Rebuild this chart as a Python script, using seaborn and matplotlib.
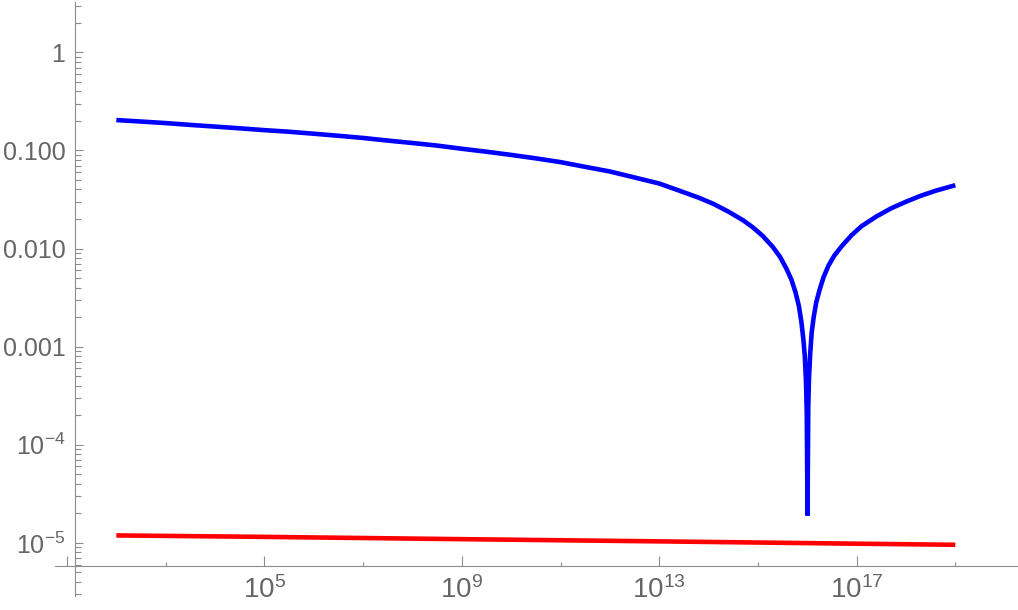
import matplotlib.pyplot as plt
import numpy as np
import seaborn as sns
from matplotlib.ticker import FixedLocator, FixedFormatter, NullFormatter

# exponents of x (x = 10**exp) and the values
blue_exp = [2.0, 2.5, 3.0, 3.5, 4.0, 4.5, 5.0, 5.5, 6.0, 6.5, 7.0, 7.5, 8.0,
            8.5, 9.0, 9.5, 10.0, 10.5, 11.0, 11.5, 12.0, 12.5, 13.0, 13.4,
            13.8, 14.1, 14.4, 14.7, 14.9, 15.1, 15.3, 15.45, 15.58, 15.68,
            15.76, 15.83, 15.88, 15.92, 15.95, 15.975, 15.99, 16.005,
            16.02, 16.035, 16.06, 16.09, 16.13, 16.18, 16.25, 16.33, 16.43,
            16.55, 16.7, 16.9, 17.1, 17.4, 17.7, 18.0, 18.3, 18.6, 19.0]
blue_val = [0.204, 0.197, 0.190, 0.182, 0.175, 0.168, 0.161, 0.155, 0.148,
            0.141, 0.134, 0.126, 0.119, 0.112, 0.104, 0.097, 0.090, 0.083,
            0.076, 0.068, 0.061, 0.053, 0.046, 0.039, 0.033, 0.0285, 0.0238,
            0.0194, 0.0164, 0.0134, 0.0104, 0.0082, 0.0062, 0.0048, 0.0036,
            0.0026, 0.0018, 0.0012, 8.0e-4, 4.3e-4, 2.1e-4, 1.9e-5,
            2.4e-4, 4.8e-4, 8.6e-4, 0.0014, 0.0020, 0.0028, 0.0038, 0.0051,
            0.0067, 0.0085, 0.0106, 0.0137, 0.0169, 0.0212, 0.0257, 0.0300,
            0.0345, 0.0388, 0.0442]

red_exp = [2, 5, 9, 13, 17, 19]
red_val = [1.19e-5, 1.15e-5, 1.09e-5, 1.035e-5, 0.98e-5, 0.955e-5]

x_major = [1e1, 1e5, 1e9, 1e13, 1e17]
x_labels = ["", r"$\mathregular{10^{5}}$", r"$\mathregular{10^{9}}$",
            r"$\mathregular{10^{13}}$", r"$\mathregular{10^{17}}$"]
x_minor = [1e3, 1e7, 1e11, 1e15, 1e19]
y_major = [1e-5, 1e-4, 1e-3, 1e-2, 1e-1, 1]
y_labels = [r"$\mathregular{10^{-5}}$", r"$\mathregular{10^{-4}}$",
            "0.001", "0.010", "0.100", "1"]

sns.set_style("white")
plt.rcParams["font.family"] = ["Liberation Sans", "DejaVu Sans"]

fig = plt.figure(figsize=(10.18, 6.10), dpi=100)
ax = fig.add_axes([55 / 1018, 14 / 610, 963 / 1018, 594 / 610])
ax.set_xscale("log")
ax.set_yscale("log")

sns.lineplot(x=10.0 ** np.array(blue_exp), y=blue_val, color=(0, 0, 1), lw=3.3,
             ax=ax, solid_joinstyle="bevel", solid_capstyle="butt")
sns.lineplot(x=10.0 ** np.array(red_exp), y=red_val, color=(1, 0, 0), lw=3.3,
             ax=ax, solid_capstyle="butt")

ax.set_xlim(10 ** 0.757, 10 ** 20.27)
ax.set_ylim(10 ** -5.542, 10 ** 0.513)

for s in ["top", "right"]:
    ax.spines[s].set_visible(False)
ax.spines["left"].set_position(("data", 10 ** 1.162))
ax.spines["bottom"].set_position(("data", 10 ** -5.237))
for s in ["left", "bottom"]:
    ax.spines[s].set_color("#8c8c8c")
    ax.spines[s].set_linewidth(0.8)

ax.xaxis.set_major_locator(FixedLocator(x_major))
ax.xaxis.set_major_formatter(FixedFormatter(x_labels))
ax.xaxis.set_minor_locator(FixedLocator(x_minor))
ax.xaxis.set_minor_formatter(NullFormatter())

y_minor = [m * 10.0 ** k for k in range(-6, 1) for m in range(2, 10)]
ax.yaxis.set_major_locator(FixedLocator(y_major))
ax.yaxis.set_major_formatter(FixedFormatter(y_labels))
ax.yaxis.set_minor_locator(FixedLocator(y_minor))
ax.yaxis.set_minor_formatter(NullFormatter())

ax.tick_params(axis="both", which="both", direction="in", color="#8c8c8c",
               width=0.8, labelcolor="#666666", labelsize=18,
               bottom=True, left=True)
ax.tick_params(axis="x", which="major", length=7.2, pad=7, labelsize=20)
ax.tick_params(axis="x", which="minor", length=3.2)
ax.tick_params(axis="y", which="major", length=6, pad=7)
ax.tick_params(axis="y", which="minor", length=4)

ax.set_xlabel("")
ax.set_ylabel("")

fig.savefig("out.png", dpi=100)
